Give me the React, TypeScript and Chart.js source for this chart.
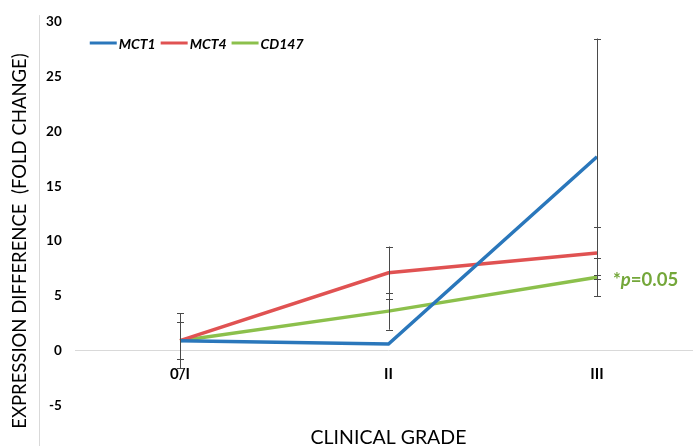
import React, { useEffect, useRef } from "react";
import { Chart, registerables } from "chart.js";

Chart.register(...registerables);

const categories = ["0/I", "II", "III"];
const seriesNames = ["MCT1", "MCT4", "CD147"];
const mct1 = [0.9, 0.6, 17.7];
const mct4 = [0.9, 7.1, 8.9];
const cd147 = [0.9, 3.6, 6.7];
const mct1Err = [0, 0, 10.8];
const mct4Err = [2.5, 2.4, 2.4];
const cd147Err = [1.7, 1.7, 1.75];
const yTicks = [-10, -5, 0, 5, 10, 15, 20, 25, 30];
const yTitle = "EXPRESSION DIFFERENCE  (FOLD CHANGE)";
const xTitle = "CLINICAL GRADE";
const pLabel = { star: "*", p: "p", rest: "=0.05" };

const colors = ["#2a77bb", "#e05252", "#8cc04c"];
const FONT = "Lato, 'Open Sans', sans-serif";

const errorBars = {
  id: "errorBars",
  afterDatasetsDraw(chart: any) {
    const ctx = chart.ctx;
    const y = chart.scales.y;
    const errs = [mct1Err, mct4Err, cd147Err];
    ctx.save();
    ctx.strokeStyle = "#4a4a4a";
    ctx.lineWidth = 1;
    chart.data.datasets.forEach((ds: any, i: number) => {
      const meta = chart.getDatasetMeta(i);
      meta.data.forEach((pt: any, j: number) => {
        const e = errs[i][j];
        if (!e) return;
        const v = ds.data[j];
        const x = Math.round(pt.x) + 0.5;
        const yt = y.getPixelForValue(v + e);
        const yb = y.getPixelForValue(v - e);
        ctx.beginPath();
        ctx.moveTo(x, yt);
        ctx.lineTo(x, yb);
        ctx.moveTo(x - 3.5, Math.round(yt) + 0.5);
        ctx.lineTo(x + 3.5, Math.round(yt) + 0.5);
        ctx.moveTo(x - 3.5, Math.round(yb) + 0.5);
        ctx.lineTo(x + 3.5, Math.round(yb) + 0.5);
        ctx.stroke();
      });
    });
    ctx.restore();
  },
};

const decorations = {
  id: "decorations",
  beforeDraw(chart: any) {
    const ctx = chart.ctx;
    const area = chart.chartArea;
    ctx.save();
    ctx.strokeStyle = "#d9d9d9";
    ctx.lineWidth = 1;
    const ax = Math.round(area.left - 37) + 0.5;
    ctx.beginPath();
    ctx.moveTo(ax, area.top - 7);
    ctx.lineTo(ax, chart.height);
    ctx.stroke();
    ctx.restore();
  },
  afterDraw(chart: any) {
    const ctx = chart.ctx;
    const area = chart.chartArea;
    ctx.save();
    // legend
    let x = area.left + 14;
    const ly = 43;
    ctx.font = `italic bold 14px ${FONT}`;
    ctx.textBaseline = "middle";
    chart.data.datasets.forEach((ds: any, i: number) => {
      ctx.strokeStyle = colors[i];
      ctx.lineWidth = 3;
      ctx.beginPath();
      ctx.moveTo(x, ly);
      ctx.lineTo(x + 27, ly);
      ctx.stroke();
      x += 29;
      ctx.fillStyle = "#000";
      ctx.fillText(ds.label, x, ly + 1);
      x += ctx.measureText(ds.label).width + 5;
    });
    // p-value annotation next to the last CD147 point
    const meta = chart.getDatasetMeta(2);
    const last = meta.data[meta.data.length - 1];
    let px = last.x + 16;
    const py = last.y + 3;
    ctx.fillStyle = "#74a73a";
    ctx.font = `bold 18.5px ${FONT}`;
    ctx.fillText(pLabel.star, px, py);
    px += ctx.measureText(pLabel.star).width;
    ctx.font = `italic bold 18.5px ${FONT}`;
    ctx.fillText(pLabel.p, px, py);
    px += ctx.measureText(pLabel.p).width;
    ctx.font = `bold 18.5px ${FONT}`;
    ctx.fillText(pLabel.rest, px, py);
    ctx.restore();
  },
};

export default function App() {
  const ref = useRef<HTMLCanvasElement>(null);
  useEffect(() => {
    document.body.style.margin = "0";
    const allData = [mct1, mct4, cd147];
    const chart = new Chart(ref.current!, {
      type: "line",
      data: {
        labels: categories,
        datasets: seriesNames.map((name, i) => ({
          label: name,
          data: allData[i],
          borderColor: colors[i],
          backgroundColor: colors[i],
          borderWidth: 3.5,
          pointRadius: 0,
          tension: 0,
          fill: false,
        })),
      },
      options: {
        responsive: false,
        animation: false,
        devicePixelRatio: 1,
        layout: { padding: { top: 20, bottom: 10, right: 18.75, left: 0 } },
        plugins: {
          legend: { display: false },
          tooltip: { enabled: false },
        },
        scales: {
          x: {
            type: "category",
            offset: true,
            position: { y: 0 } as any,
            grid: { display: false, drawTicks: false },
            border: { display: true, color: "#d9d9d9", width: 1 },
            ticks: {
              padding: 15,
              color: "#000",
              font: { family: FONT, size: 15, weight: "bold" },
            },
            title: {
              display: true,
              text: xTitle,
              color: "#000",
              font: { family: FONT, size: 19.5 },
              padding: { top: 27, bottom: 0 },
            },
          },
          y: {
            min: -10,
            max: 30,
            afterBuildTicks(scale: any) {
              scale.ticks = yTicks.map((v) => ({ value: v }));
            },
            afterFit(scale: any) {
              scale.width = 75.75;
              scale.paddingBottom = 0;
            },
            grid: { display: false, drawTicks: false },
            border: { display: false },
            ticks: {
              padding: 14,
              color: "#000",
              font: { family: FONT, size: 13.5, weight: "bold" },
            },
            title: {
              display: true,
              text: yTitle,
              color: "#000",
              font: { family: FONT, size: 18.5 },
              padding: { top: 9, bottom: 0 },
            },
          },
        },
      },
      plugins: [decorations, errorBars],
    });
    return () => chart.destroy();
  }, []);
  return (
    <div style={{ width: 693, height: 446, overflow: "hidden", background: "#fff" }}>
      <canvas ref={ref} width={720} height={470} style={{ display: "block" }} />
    </div>
  );
}
